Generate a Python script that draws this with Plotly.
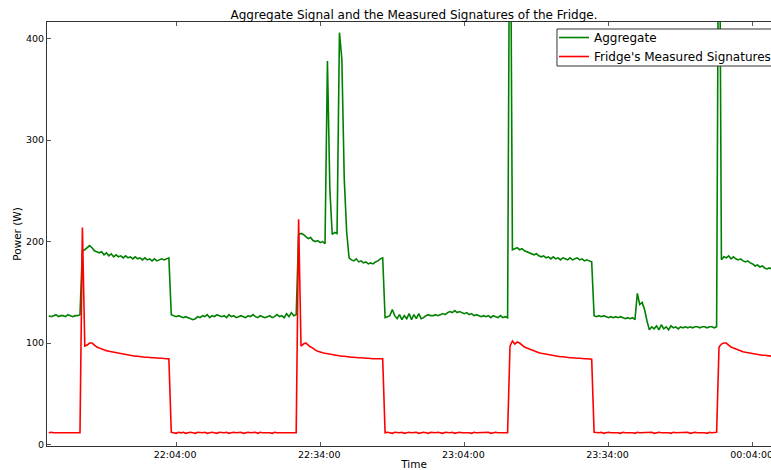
import pandas as pd
import plotly.graph_objects as go

# Readings every 30 seconds, starting at 21:37:30
START = "2013-04-18 21:37:30"
STEP = "30s"

# Aggregate power (W), one list per fridge off/on period
agg_off_1 = [127, 126, 127, 128, 126, 127, 127, 126, 128, 127, 126, 127, 127, 128]
agg_on_1 = [191, 192, 194, 196, 194, 191, 190, 189, 190, 187, 189, 186, 188, 185, 187, 185,
            186, 184, 186, 184, 185, 183, 185, 183, 184, 182, 184, 182, 183, 181, 183, 181,
            182, 183, 182, 183, 184]
agg_off_2 = [128, 127, 126, 127, 126, 125, 126, 125, 124, 123,
             124, 126, 125, 127, 126, 128, 125, 127, 126, 128,
             127, 126, 127, 125, 128, 126, 127, 125, 126, 127,
             126, 125, 127, 126, 128, 126, 125, 127, 126, 125,
             126, 127, 125, 126, 128, 126, 127, 125, 129, 126,
             130, 127, 128]
agg_on_2 = [207, 208, 207, 205, 203, 204, 201, 200, 201, 199, 200, 198, 378, 252, 207, 209,
            208, 406, 380, 262, 210,
            184, 182, 181, 183, 180, 181, 179, 180, 178, 179, 178, 180, 181, 183, 184]
agg_off_3 = [125, 126, 127, 133, 127, 124, 128, 123, 127, 124, 129, 123, 128, 124, 129, 124,
             125, 127, 128, 127, 127, 128, 127, 128, 129, 128, 130, 131, 130, 132, 130, 131,
             130, 129, 130, 128, 129, 127, 128, 127, 126, 127, 126, 127, 125, 127, 126, 125,
             127, 125, 126, 125]
agg_on_3 = [620, 192, 193, 194, 192, 193, 191, 190, 189, 188, 187, 188, 186, 185, 186, 184,
            185, 183, 185, 183, 184, 182, 184, 183, 182, 184, 182, 183, 184, 182, 183, 181,
            182, 181, 180]
agg_off_4 = [127, 126, 127, 126, 127, 126, 125, 126, 125, 126, 125, 126, 125, 124, 125, 124,
             125, 123, 149, 138, 140, 133, 122, 113, 116, 114, 117, 113, 118, 114, 116, 113,
             117, 115, 116, 114, 116, 115, 116, 115, 116, 115, 116, 116, 115, 116, 116, 115,
             116, 116, 115, 116]
agg_on_4 = [640, 182, 185, 184, 186, 183, 185, 183, 182, 183, 181, 180, 181, 179, 178, 176,
            177, 175, 176, 174, 173, 174, 173, 172, 173, 172]

# Fridge power (W) over the same periods
fridge_off_1 = [11.5, 12, 11.5, 11.5, 12, 11.5, 11.5, 12, 11.5, 11.5, 12, 11.5, 11.5, 11.5]
fridge_on_1 = [214, 97, 98, 100, 100, 98, 96, 95, 94, 93, 92.5, 92, 91.5, 91, 90.5, 90,
               89.5, 89, 88.5, 88, 88, 87.5, 87, 87, 86.5, 86.5, 86, 86, 85.5, 85.5, 85.5,
               85, 85, 85, 84.5, 84.5, 84.5]
fridge_off_2 = [12, 11.5, 11, 12, 11.5, 12, 11, 11.5, 12, 11.5,
                11, 12, 11.5, 11.5, 12, 11, 11.5, 12, 11.5, 11,
                12, 11.5, 11.5, 12, 11, 11.5, 12, 11.5, 11.5, 12,
                11, 11.5, 12, 11.5, 11.5, 12, 11, 12, 11.5, 11.5,
                12, 11.5, 11, 12, 11.5, 11.5, 12, 11.5, 12, 11.5,
                11.5, 12, 11.5]
fridge_on_2 = [222, 97, 99, 100, 98, 96, 95, 93, 92, 91, 90.5, 90, 89.5, 89, 88.5, 88, 88,
               87.5, 87, 87, 86.5, 86.5, 86, 86, 85.5, 85.5, 85.5, 85, 85, 85, 84.5, 84.5,
               84.5, 84.5, 84.5, 84.5]
fridge_off_3 = [11.5, 12, 11.5, 11, 12, 11.5, 11.5, 12, 11, 11.5,
                12, 11.5, 11.5, 12, 11, 11.5, 12, 11.5, 11, 12,
                11.5, 11.5, 12, 11.5, 11, 12, 11.5, 11.5, 12, 11,
                11.5, 12, 11.5, 11.5, 12, 11.5, 11, 12, 11.5, 11.5,
                12, 11.5, 11.5, 12, 11, 11.5, 12, 11.5, 11.5, 12,
                11.5, 11.5]
fridge_on_3 = [97, 102, 99, 101, 100, 98, 96, 95, 94, 93, 92, 91, 90.5, 90, 89.5, 89, 88.5,
               88, 87.5, 87.5, 87, 86.5, 86.5, 86, 86, 85.5, 85.5, 85, 85, 85, 84.5, 84.5,
               84.5, 84, 84]
fridge_off_4 = [12, 11.5, 11.5, 12, 11, 11.5, 12, 11.5, 11.5, 12,
                11.5, 11, 12, 11.5, 11.5, 12, 11.5, 11, 12, 11.5,
                11.5, 12, 11.5, 11.5, 12, 11, 11.5, 12, 11.5, 11.5,
                12, 11.5, 11, 12, 11.5, 11.5, 12, 11.5, 11.5, 12,
                11, 11.5, 12, 11.5, 11.5, 12, 11.5, 11, 12, 11.5,
                11.5, 12]
fridge_on_4 = [96, 99, 100, 100, 98, 96, 95, 94, 93, 92, 91.5, 91, 90.5, 90, 89.5, 89, 88.5,
               88.5, 88, 88, 87.5, 87.5, 87, 87, 86.5, 86.5]

aggregate = (agg_off_1 + agg_on_1 + agg_off_2 + agg_on_2 +
             agg_off_3 + agg_on_3 + agg_off_4 + agg_on_4)
fridge = (fridge_off_1 + fridge_on_1 + fridge_off_2 + fridge_on_2 +
          fridge_off_3 + fridge_on_3 + fridge_off_4 + fridge_on_4)

time_agg = pd.date_range(START, periods=len(aggregate), freq=STEP)
time_fridge = pd.date_range(START, periods=len(fridge), freq=STEP)

x_tick_vals = ["2013-04-18 22:04:00", "2013-04-18 22:34:00", "2013-04-18 23:04:00",
               "2013-04-18 23:34:00", "2013-04-19 00:04:00"]
x_tick_text = ["22:04:00", "22:34:00", "23:04:00", "23:34:00", "00:04:00"]
x_limits = ["2013-04-18 21:37:08", "2013-04-19 00:09:54"]
y_ticks = [0, 100, 200, 300, 400]

FONT = "DejaVu Sans"

fig = go.Figure()
fig.add_trace(go.Scatter(x=time_agg, y=aggregate, mode="lines", name="Aggregate",
                         line=dict(color="#008000", width=1.6)))
fig.add_trace(go.Scatter(x=time_fridge, y=fridge, mode="lines",
                         name="Fridge's Measured Signatures",
                         line=dict(color="#ff0000", width=1.6)))

axis_common = dict(showgrid=False, zeroline=False, showline=True, linecolor="#333333",
                   linewidth=1, mirror="allticks", ticks="inside", ticklen=4,
                   tickcolor="#555555", tickfont=dict(family=FONT, size=9.5, color="black"))

# Legend frame, drawn over the lines so they pass underneath it
fig.add_shape(type="rect", xref="paper", yref="paper",
              x0=0.6948, x1=0.9946, y0=0.8962, y1=0.9835,
              line=dict(color="#333333", width=1), fillcolor="white", layer="above")

fig.update_layout(
    width=800, height=470,
    margin=dict(l=47, r=19, t=22, b=24),
    paper_bgcolor="white", plot_bgcolor="white",
    font=dict(family=FONT, color="black"),
    title=dict(text="Aggregate Signal and the Measured Signatures of the Fridge.",
               x=0.5, xref="paper", xanchor="center",
               y=1, yref="paper", yanchor="bottom", pad=dict(b=3),
               font=dict(family=FONT, size=12, color="black")),
    legend=dict(x=0.6907, y=0.9976, xanchor="left", yanchor="top",
                bgcolor="rgba(0,0,0,0)", borderwidth=0,
                font=dict(family=FONT, size=12, color="black"),
                tracegroupgap=0, itemwidth=30),
    showlegend=True,
)
fig.update_xaxes(range=x_limits, tickvals=x_tick_vals, ticktext=x_tick_text,
                 ticklabelshift=-1,
                 title=dict(text="Time", font=dict(family=FONT, size=10.5), standoff=4),
                 automargin=False, **axis_common)
fig.update_yaxes(range=[-1.5, 416.5], tickvals=y_ticks,
                 title=dict(text="Power (W)", font=dict(family=FONT, size=10.5), standoff=2),
                 automargin=False, **axis_common)

fig.write_html("out.html", config={"displayModeBar": False},
               post_script="document.body.style.margin='0';"
                           "document.body.style.overflow='hidden';")
